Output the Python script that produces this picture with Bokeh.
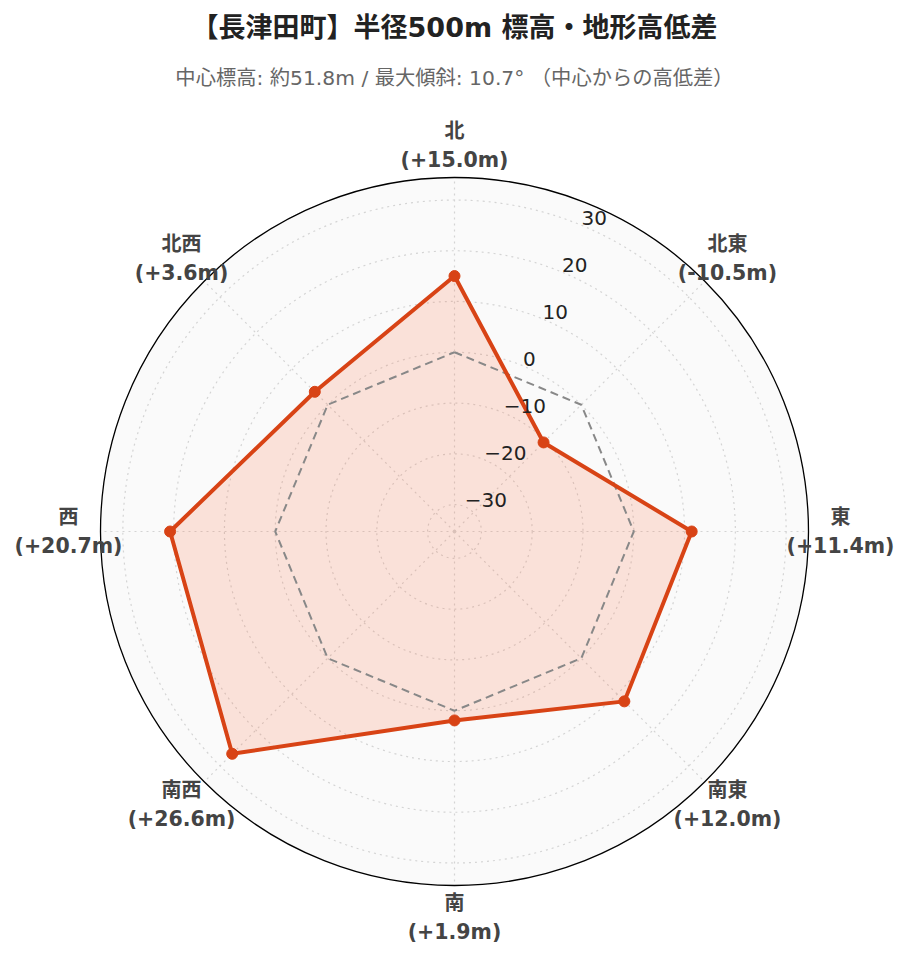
import numpy as np
from bokeh.plotting import figure
from bokeh.models import Range1d
from bokeh.core.properties import value
from bokeh.embed import file_html
from bokeh.resources import INLINE

# ---- data ----
directions = ["北", "北東", "東", "南東", "南", "南西", "西", "北西"]
diffs = [15.0, -10.5, 11.4, 12.0, 1.9, 26.6, 20.7, 3.6]
radial_ticks = [-30, -20, -10, 0, 10, 20, 30]
radial_tick_labels = ["−30", "−20", "−10", "0", "10", "20", "30"]
title_text = "【長津田町】半径500m 標高・地形高低差"
subtitle_text = "中心標高: 約51.8m / 最大傾斜: 10.7° （中心からの高低差）"
r_min, r_max = -35.3, 34.4

# ---- layout ----
W, H = 899, 946
CX, CY = 454, 531          # pole position in canvas px
R_PX = 354                 # outer radius in px
k = R_PX / (r_max - r_min) # px per unit
FONT = value("DejaVu Sans, Noto Sans CJK JP")
RED = "#d84315"

p = figure(width=W, height=H,
           x_range=Range1d(-CX / k, (W - CX) / k),
           y_range=Range1d(-(H - CY) / k, CY / k),
           output_backend="svg", toolbar_location=None,
           x_axis_type=None, y_axis_type=None,
           min_border=0, outline_line_color=None,
           background_fill_color="white", border_fill_color="white")
p.grid.visible = False


def rad(v):
    return np.asarray(v, dtype=float) - r_min


R = r_max - r_min
theta = np.deg2rad(np.arange(len(directions)) * 45.0)
sin_t, cos_t = np.sin(theta), np.cos(theta)

# background disk
p.circle(x=[0], y=[0], radius=R, fill_color="#fafafa", line_color=None)

# grid circles
p.circle(x=[0] * len(radial_ticks), y=[0] * len(radial_ticks), radius=rad(radial_ticks),
         fill_color=None, line_color="#d4d4d4", line_dash="2 4", line_width=1.2)

# spokes
p.segment(x0=[0] * len(theta), y0=[0] * len(theta), x1=R * sin_t, y1=R * cos_t,
          line_color="#d4d4d4", line_dash="2 4", line_width=1.2)

# data polygon fill
rv = rad(diffs)
xs = rv * sin_t
ys = rv * cos_t
p.patch(x=xs, y=ys, fill_color="#ff5722", fill_alpha=0.15, line_color=None)

# zero reference
zr = rad(0)
p.line(x=list(zr * sin_t) + [zr * sin_t[0]], y=list(zr * cos_t) + [zr * cos_t[0]],
       line_color="#888888", line_width=2, line_dash="8 5")

# data outline and markers
p.line(x=list(xs) + [xs[0]], y=list(ys) + [ys[0]], line_color=RED, line_width=4,
       line_join="round")
p.scatter(x=xs, y=ys, size=11, fill_color=RED, line_color=RED)

# outer circle
p.circle(x=[0], y=[0], radius=R, fill_color=None, line_color="black", line_width=1.3)

# radial tick labels along 22.5 deg
a = np.deg2rad(22.5)
tr = rad(radial_ticks)
p.text(x=tr * np.sin(a), y=tr * np.cos(a), text=radial_tick_labels,
       text_align="left", text_baseline="middle", y_offset=-7,
       text_font=FONT, text_font_size="20px", text_color="#222222")

# category labels
lab_r = 386 / k
line2 = [f"({'+' if d >= 0 else ''}{d:.1f}m)" for d in diffs]
p.text(x=lab_r * sin_t, y=lab_r * cos_t, text=directions, y_offset=-14.5,
       text_align="center", text_baseline="middle",
       text_font=FONT, text_font_size="20px", text_font_style="bold", text_color="#444444")
p.text(x=lab_r * sin_t, y=lab_r * cos_t, text=line2, y_offset=14.5,
       text_align="center", text_baseline="middle",
       text_font=FONT, text_font_size="20.5px", text_font_style="bold", text_color="#444444")

# title & subtitle
p.text(x=[0], y=[(CY - 27) / k], text=[title_text], text_align="center", text_baseline="middle",
       text_font=FONT, text_font_size="27px", text_font_style="bold", text_color="#222222")
p.text(x=[0], y=[(CY - 77) / k], text=[subtitle_text], text_align="center", text_baseline="middle",
       text_font=FONT, text_font_size="20.3px", text_color="#666666")

open("out.html", "w").write(file_html(p, INLINE))
